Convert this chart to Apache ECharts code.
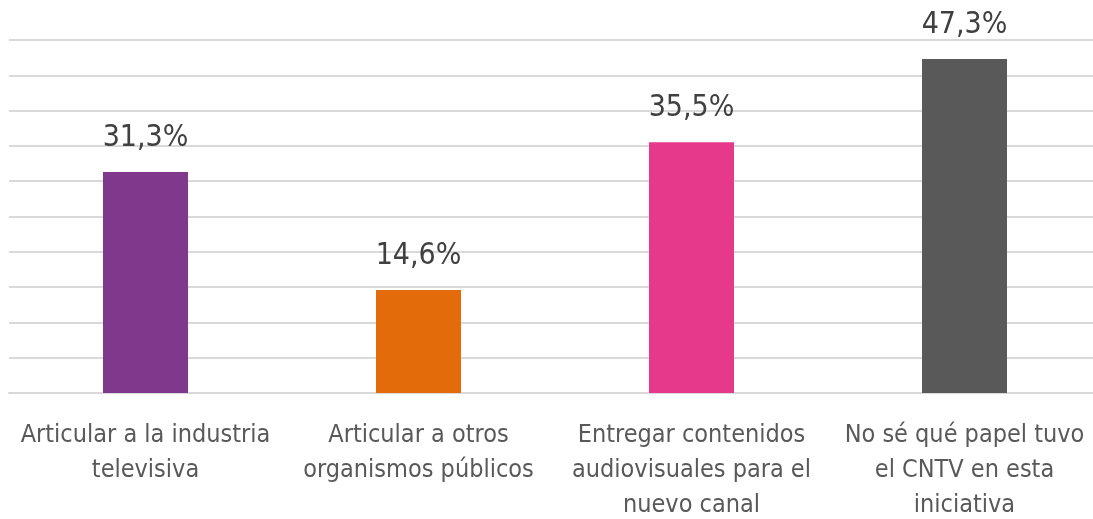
<!DOCTYPE html>
<html>
<head>
<meta charset="utf-8">
<script src="https://cdn.jsdelivr.net/npm/echarts@6/dist/echarts.min.js"></script>
<style>
html,body{margin:0;padding:0;background:#fff;}
#chart{width:1093px;height:519px;}
</style>
</head>
<body>
<div id="chart"></div>
<script>
var categories=['Articular a la industria\ntelevisiva','Articular a otros\norganismos públicos','Entregar contenidos\naudiovisuales para el\nnuevo canal','No sé qué papel tuvo\nel CNTV en esta\niniciativa'];
var values=[31.3,14.6,35.5,47.3];
var colors=['#7f388b','#e46b0a','#e6398c','#595959'];

var font='"DejaVu Sans Condensed", "Liberation Sans", sans-serif';

var option={
	animation:false,
	grid:{left:9,right:-8,top:40,bottom:126,containLabel:false,outerBoundsMode:'none'},
	xAxis:{
		type:'category',
		data:categories,
		axisTick:{show:false},
		axisLine:{lineStyle:{color:'#d9d9d9',width:2}},
		axisLabel:{
			interval:0,
			margin:25,
			color:'#595959',
			fontSize:25,
			lineHeight:35,
			fontFamily:font
		}
	},
	yAxis:{
		type:'value',
		min:0,
		max:50,
		interval:5,
		axisLabel:{show:false},
		axisLine:{show:false},
		axisTick:{show:false},
		splitLine:{lineStyle:{color:'#d9d9d9',width:2}}
	},
	series:[{
		type:'bar',
		barWidth:85,
		data:values.map(function(v,i){
			return {value:v,itemStyle:{color:colors[i]}};
		}),
		label:{
			show:true,
			position:'top',
			distance:19,
			color:'#404040',
			fontSize:30,
			fontFamily:font,
			formatter:function(p){return p.value.toFixed(1).replace('.',',')+'%';}
		}
	}]
};
var mychart=echarts.init(document.getElementById('chart'));
mychart.setOption(option);
</script>
</body>
</html>
